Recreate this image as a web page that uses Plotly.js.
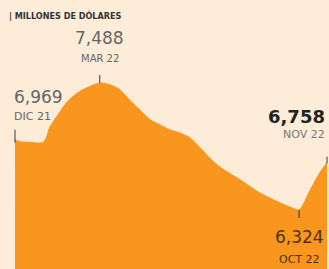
<!DOCTYPE html>
<html>
<head>
<meta charset="utf-8">
<script src="https://cdn.plot.ly/plotly-3.0.1.min.js"></script>
<style>html,body{margin:0;padding:0;background:#fdecd8;}#chart{width:329px;height:269px;}</style>
</head>
<body>
<div id="chart"></div>
<script>
// Reservas (millones de dólares), lectura aproximada del gráfico
const dates = ['2021-12-01','2021-12-06','2021-12-17','2021-12-31','2022-01-04','2022-01-07','2022-01-13','2022-01-18','2022-01-26','2022-02-06','2022-02-19','2022-03-02','2022-03-13','2022-03-24','2022-04-03','2022-04-14','2022-04-25','2022-05-06','2022-05-16','2022-05-27','2022-06-07','2022-06-18','2022-06-28','2022-07-09','2022-07-31','2022-08-21','2022-09-12','2022-09-25','2022-10-02','2022-10-14','2022-10-24','2022-11-01'];
const reserves = [6969,6950,6944,6942,6995,7075,7158,7220,7314,7396,7455,7488,7472,7424,7332,7241,7152,7103,7060,7030,6984,6892,6801,6718,6599,6480,6388,6342,6324,6507,6663,6758];
const labelIdx = [0, 11, 28, 31];
const labelNames = ['DIC 21', 'MAR 22', 'OCT 22', 'NOV 22'];
const unitLabel = '| MILLONES DE DÓLARES';

const fmt = v => v.toLocaleString('en-US');
const orange = '#f8961d';
const bg = '#fdecd8';
const numFont = 'DejaVu Sans, sans-serif';

const trace = {
  x: dates, y: reserves, type: 'scatter', mode: 'lines',
  line: {color: orange, width: 1, shape: 'spline', smoothing: 0.8},
  fill: 'tozeroy', fillcolor: orange, hoverinfo: 'skip'
};

const styles = [
  {vy: 43, ny: 23, xa: 'left', xs: -3, vc: '#666666', nc: '#666666', vw: 'normal', vs: 17, ns: 11},
  {vy: 45, ny: 25, xa: 'center', xs: 0, vc: '#666666', nc: '#666666', vw: 'normal', vs: 17, ns: 10},
  {vy: -27, ny: -50, xa: 'center', xs: 0, vc: '#4a3216', nc: '#4a3216', vw: 'normal', vs: 17, ns: 11},
  {vy: 46, ny: 28, xa: 'right', xs: 0, vc: '#222222', nc: '#777777', vw: 'bold', vs: 18, ns: 11}
];
const tickSpans = [[-3, 10], [0, 8], [-8, 0], [-1, 6]];

const annotations = [];
const shapes = [];
labelIdx.forEach((idx, k) => {
  const s = styles[k];
  annotations.push({x: dates[idx], y: reserves[idx], xref: 'x', yref: 'y', text: fmt(reserves[idx]),
    showarrow: false, xanchor: s.xa, yanchor: 'middle', xshift: s.xs, yshift: s.vy,
    font: {family: numFont, size: s.vs, color: s.vc, weight: s.vw}});
  annotations.push({x: dates[idx], y: reserves[idx], xref: 'x', yref: 'y', text: labelNames[k],
    showarrow: false, xanchor: s.xa, yanchor: 'middle', xshift: s.xs, yshift: s.ny,
    font: {family: numFont, size: s.ns, color: s.nc}});
  shapes.push({type: 'line', xref: 'x', yref: 'y', ysizemode: 'pixel', yanchor: reserves[idx],
    x0: dates[idx], x1: dates[idx], y0: tickSpans[k][0], y1: tickSpans[k][1],
    line: {color: '#3a3a3a', width: 1}});
});
annotations.push({x: 7/329, y: 1 - 16/269, xref: 'paper', yref: 'paper', text: unitLabel,
  showarrow: false, xanchor: 'left', yanchor: 'middle',
  font: {family: 'DejaVu Sans Condensed, Liberation Sans Narrow, sans-serif', size: 9, color: '#333333', weight: 'bold'}});

const layout = {
  width: 329, height: 269,
  margin: {l: 0, r: 0, t: 0, b: 0},
  paper_bgcolor: bg, plot_bgcolor: bg,
  showlegend: false,
  xaxis: {type: 'date', range: ['2021-11-14 21:36', '2022-11-03 03:36'], visible: false, showgrid: false, zeroline: false},
  yaxis: {range: [5783, 8249], visible: false, showgrid: false, zeroline: false},
  annotations: annotations, shapes: shapes
};
Plotly.newPlot('chart', [trace], layout, {displayModeBar: false, staticPlot: true});
</script>
</body>
</html>
